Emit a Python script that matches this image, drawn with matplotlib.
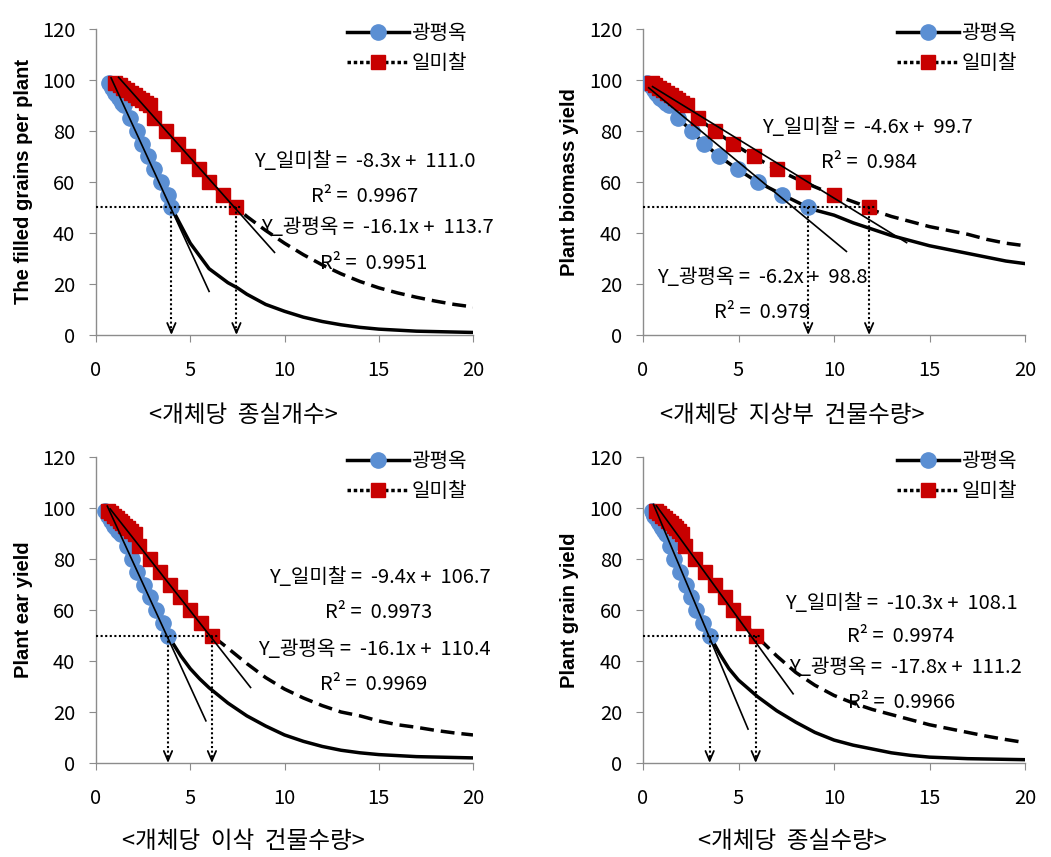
import matplotlib.pyplot as plt
import numpy as np
from matplotlib.lines import Line2D

plt.rcParams.update({'font.family': ['Noto Sans CJK KR', 'DejaVu Sans']})
plt.rcParams.update({'axes.unicode_minus': False})

#%% data
levels = [99, 98, 97, 96, 95, 94, 93, 92, 91, 90, 85, 80, 75, 70, 65, 60, 55, 50]

# marker x positions (광평옥 = kp, 일미찰 = im) for each panel
kp_x1 = [0.7, 0.78, 0.86, 0.94, 1.02, 1.1, 1.2, 1.3, 1.4, 1.5, 1.78, 2.15, 2.45, 2.75, 3.1, 3.45, 3.8, 4.0]
im_x1 = [1.0, 1.25, 1.45, 1.65, 1.85, 2.05, 2.25, 2.45, 2.65, 2.85, 3.1, 3.72, 4.34, 4.87, 5.49, 6.0, 6.73, 7.45]
kp_x2 = [0.2, 0.35, 0.5, 0.6, 0.7, 0.8, 0.9, 1.05, 1.2, 1.35, 1.85, 2.55, 3.2, 4.0, 4.95, 6.0, 7.3, 8.65]
im_x2 = [0.45, 0.65, 0.85, 1.05, 1.25, 1.45, 1.65, 1.85, 2.05, 2.3, 2.88, 3.76, 4.72, 5.8, 6.99, 8.38, 10.0, 11.84]
kp_x3 = [0.5, 0.58, 0.66, 0.74, 0.82, 0.9, 0.98, 1.08, 1.18, 1.3, 1.65, 1.9, 2.2, 2.55, 2.85, 3.2, 3.55, 3.82]
im_x3 = [0.65, 0.8, 0.95, 1.1, 1.25, 1.4, 1.55, 1.7, 1.85, 2.05, 2.3, 2.86, 3.39, 3.92, 4.45, 4.98, 5.57, 6.15]
kp_x4 = [0.45, 0.52, 0.6, 0.68, 0.76, 0.84, 0.92, 1.0, 1.1, 1.2, 1.4, 1.6, 1.92, 2.27, 2.53, 2.8, 3.14, 3.49]
im_x4 = [0.7, 0.85, 1.0, 1.15, 1.3, 1.45, 1.6, 1.75, 1.9, 2.05, 2.2, 2.7, 3.23, 3.76, 4.28, 4.72, 5.24, 5.9]

# curve tails beyond the last marker
kp_tx1 = [4.5, 5, 6, 7, 7.5, 8, 9, 10, 11, 12, 13, 14, 15, 17, 20]
kp_ty1 = [43, 36, 26, 20.5, 18.5, 16, 12, 9.3, 7, 5.3, 4, 3, 2.3, 1.5, 1]
im_tx1 = [8, 9, 10, 11, 12, 13, 14, 15, 16, 17, 18, 19, 20]
im_ty1 = [46.5, 41, 36, 31.5, 27.5, 24, 21, 18.5, 16.5, 14.8, 13.3, 12, 11]
kp_tx2 = [9, 10, 11, 12, 13, 14, 15, 16, 17, 18, 19, 20]
kp_ty2 = [49, 47, 44, 41.5, 39, 37, 35, 33.5, 32, 30.5, 29, 28]
im_tx2 = [12, 13, 14, 15, 16, 17, 18, 19, 20]
im_ty2 = [49, 46.5, 44.5, 42.5, 41, 39.5, 37.5, 36, 35]
kp_tx3 = [4.5, 5, 5.5, 6, 7, 8, 9, 10, 11, 12, 13, 14, 15, 17, 20]
kp_ty3 = [42, 37, 33, 29.5, 23.5, 18.5, 14.5, 11, 8.5, 6.5, 5, 4, 3.3, 2.5, 2]
im_tx3 = [7, 8, 9, 10, 11, 12, 13, 14, 15, 16, 17, 18, 19, 20]
im_ty3 = [45, 39, 33.5, 29, 25.5, 22.5, 20, 18.5, 16.5, 15, 14, 12.8, 11.8, 11]
kp_tx4 = [4, 4.5, 5, 6, 7, 8, 9, 10, 11, 12, 13, 14, 15, 17, 20]
kp_ty4 = [43, 37, 32.5, 26, 20.5, 16, 12, 9, 7, 5.5, 4, 3, 2.3, 1.7, 1.3]
im_tx4 = [7, 8, 9, 10, 11, 12, 13, 14, 15, 16, 17, 18, 19, 20]
im_ty4 = [42, 35.5, 30.5, 26.5, 23.5, 21, 19, 17, 15, 13.5, 12, 10.5, 9.2, 8]

# regression lines: slope, intercept, x start, x end
kp_reg = [(-16.1, 113.7, 0.8, 6.0), (-6.2, 98.8, 0.3, 10.65), (-16.1, 110.4, 0.6, 5.83), (-17.8, 111.2, 0.55, 5.5)]
im_reg = [(-8.3, 111.0, 1.2, 9.47), (-4.6, 99.7, 0.5, 13.8), (-9.4, 106.7, 0.75, 8.2), (-10.3, 108.1, 0.7, 7.86)]
r2_kp = ['0.9951', '0.979', '0.9969', '0.9966']
r2_im = ['0.9967', '0.984', '0.9973', '0.9974']

ylabels = ['The filled grains per plant', 'Plant biomass yield', 'Plant ear yield', 'Plant grain yield']
captions = ['<개체당  종실개수>', '<개체당  지상부  건물수량>', '<개체당  이삭  건물수량>', '<개체당  종실수량>']

kp_x = [kp_x1, kp_x2, kp_x3, kp_x4]
im_x = [im_x1, im_x2, im_x3, im_x4]
kp_t = [(kp_tx1, kp_ty1), (kp_tx2, kp_ty2), (kp_tx3, kp_ty3), (kp_tx4, kp_ty4)]
im_t = [(im_tx1, im_ty1), (im_tx2, im_ty2), (im_tx3, im_ty3), (im_tx4, im_ty4)]

#%% layout (pixel positions of each plot area)
W, H = 1051, 857
boxes = [(96, 29, 473, 335), (643, 29, 1025, 335), (96, 457, 473, 763), (643, 457, 1025, 763)]
# text centres (pixels): eq im, r2 im, eq kp, r2 kp
txt_pos = [[(365, 162), (365, 197), (377, 228), (374, 263)],
           [(867, 128), (869, 163), (762, 278), (762, 312)],
           [(380, 577), (379, 612), (374, 650), (374, 685)],
           [(901, 603), (901, 637), (905, 667), (902, 702)]]
cap_pos = [(243, 415), (792, 415), (243, 842), (792, 842)]
ylab_x = [33, 579, 33, 579]

blue = '#5B8FD3'
red = '#C80000'
grey = '#8C8C8C'
dot = (0, (1, 1.2))

fig = plt.figure(figsize=(W/100, H/100), dpi=100)

for i in range(4):
    l, t, r, b = boxes[i]
    ax = fig.add_axes([l/W, 1 - b/H, (r - l)/W, (b - t)/H])
    ax.set_xlim(0, 20)
    ax.set_ylim(0, 120)
    for s in ['top', 'right']:
        ax.spines[s].set_visible(False)
    for s in ['left', 'bottom']:
        ax.spines[s].set_color(grey)
        ax.spines[s].set_linewidth(1.0)
    ax.set_xticks([0, 5, 10, 15, 20])
    ax.set_yticks([0, 20, 40, 60, 80, 100, 120])
    ax.tick_params(axis='x', direction='out', length=5, color=grey, pad=13, labelsize=14.5)
    ax.tick_params(axis='y', direction='out', length=5, color=grey, pad=10, labelsize=14.5)

    # curves
    kx = list(kp_x[i]) + list(kp_t[i][0])
    ky = levels + list(kp_t[i][1])
    ix = list(im_x[i]) + list(im_t[i][0])
    iy = levels + list(im_t[i][1])
    ax.plot(kx, ky, color='k', lw=2.5, zorder=2)
    ax.plot(ix, iy, color='k', lw=2.5, ls=(0, (4, 2)), zorder=2)
    ax.plot(kp_x[i], levels, ls='none', marker='o', ms=11, mfc=blue, mec=blue, zorder=3)
    ax.plot(im_x[i], levels, ls='none', marker='s', ms=10, mfc=red, mec=red, zorder=3)

    # regression lines
    for (a, c, x0, x1) in [kp_reg[i], im_reg[i]]:
        ax.plot([x0, x1], [a*x0 + c, a*x1 + c], color='k', lw=1.2, zorder=4)

    # 50% guide lines and arrows
    xk = kp_x[i][-1]
    xi = im_x[i][-1]
    ax.plot([0, xi + 0.3], [50, 50], color='k', lw=1.5, ls=dot, zorder=5)
    for xa in [xk, xi]:
        ax.plot([xa, xa], [50, 1], color='k', lw=1.5, ls=dot, zorder=5)
        ax.annotate('', xy=(xa, 0), xytext=(xa, 2),
                    arrowprops=dict(arrowstyle='->,head_length=0.7,head_width=0.3',
                                    color='k', lw=1.3, shrinkA=0, shrinkB=0), zorder=5)

    # equations
    a, c = im_reg[i][0], im_reg[i][1]
    texts = ['Y_일미찰 =  %.1fx +  %.1f' % (a, c), 'R² =  ' + r2_im[i],
             'Y_광평옥 =  %.1fx +  %.1f' % (kp_reg[i][0], kp_reg[i][1]), 'R² =  ' + r2_kp[i]]
    for s, (px, py) in zip(texts, txt_pos[i]):
        fig.text(px/W, 1 - py/H, s, ha='center', va='center', fontsize=14.5)

    # legend
    handles = [Line2D([], [], color='k', lw=2.5, marker='o', ms=11, mfc=blue, mec=blue),
               Line2D([], [], color='k', lw=2.5, ls=(0, (1, 0.8)), marker='s', ms=10, mfc=red, mec=red)]
    ax.legend(handles, ['광평옥', '일미찰'], loc='upper left', frameon=False,
              bbox_to_anchor=(0.665, 1.02), borderaxespad=0, borderpad=0,
              handlelength=3.1, handletextpad=0.1, labelspacing=0.45, fontsize=14.5)

    ax.set_ylabel(ylabels[i], fontsize=14.5, fontweight='bold', family='Liberation Sans')
    ax.yaxis.set_label_coords((ylab_x[i] - l)/(r - l), 0.5)
    fig.text(cap_pos[i][0]/W, 1 - cap_pos[i][1]/H, captions[i], ha='center', va='center',
             fontsize=17)

fig.savefig('out.png', dpi=100)
